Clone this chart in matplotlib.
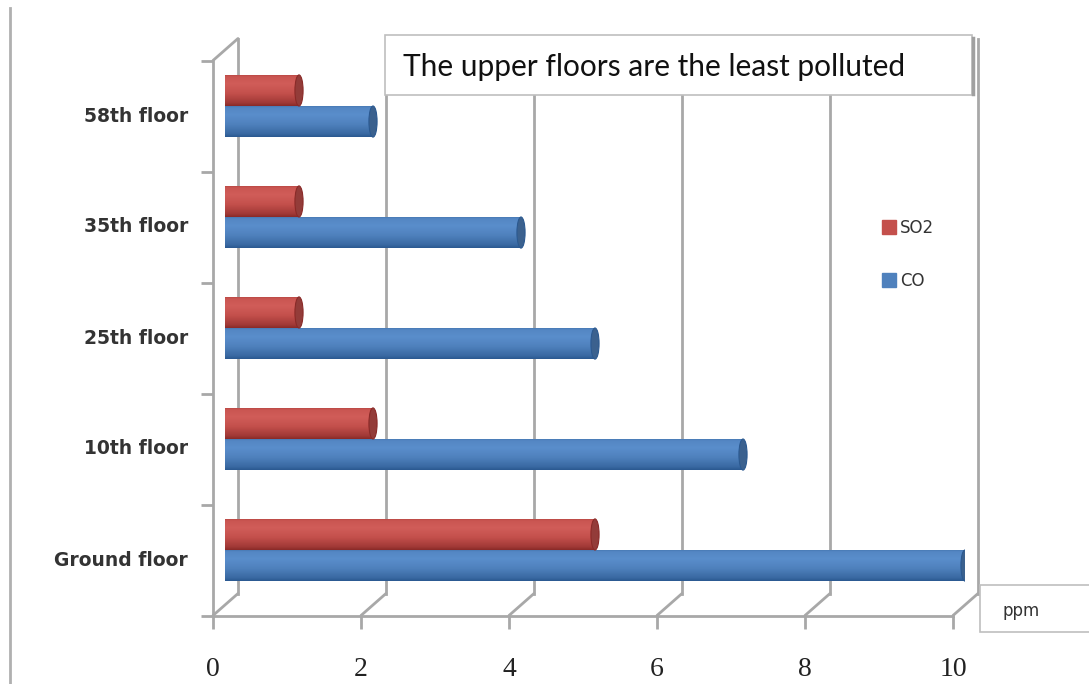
import numpy as np
import matplotlib
matplotlib.use('Agg')
import matplotlib.pyplot as plt
from matplotlib.patches import Rectangle, Ellipse, ConnectionPatch
from matplotlib.transforms import ScaledTranslation
from matplotlib.colors import to_rgb
from matplotlib.lines import Line2D
from matplotlib.markers import TICKDOWN, TICKLEFT

floors = ['Ground floor', '10th floor', '25th floor', '35th floor', '58th floor']
so2 = [5, 2, 1, 1, 1]
co = [10, 7, 5, 4, 2]
ppm_ticks = [0, 2, 4, 6, 8, 10]

W, H = 1089, 684
RED = ('#C4504C', '#E06D69', '#8A2A28')
BLUE = ('#4F81BD', '#679DDD', '#2B5990')
GRID = '#A8A8A8'


def shade(ax, patch, colors):
    """Paint a bar as a horizontal cylinder: vertical gradient plus an end cap."""
    base, light, dark = [np.array(to_rgb(c)) for c in colors]
    x, y0 = patch.get_xy()
    w, h = patch.get_width(), patch.get_height()
    t = np.linspace(0, 1, 80)
    s = np.interp(t, [0, 0.1, 0.4, 0.7, 0.92, 1.0], [-1, -0.6, 0, 0.45, 0.2, -0.4])
    rgb = np.where(s[:, None] >= 0,
                   base + s[:, None] * (light - base),
                   base + (-s[:, None]) * (dark - base))
    img = ax.imshow(np.repeat(rgb[:, None, :], 2, axis=1), origin='lower',
                    extent=(x, x + w, y0, y0 + h), aspect='auto',
                    interpolation='bilinear', zorder=3)
    img.set_clip_path(patch)
    cap = Ellipse((x + w, y0 + h / 2), width=0.11, height=h,
                  facecolor=base * 0.75, edgecolor=dark, lw=0.8, zorder=4)
    ax.add_patch(cap)


fig = plt.figure(figsize=(W / 100, H / 100), dpi=100)
ax = fig.add_axes([225 / W, (H - 605.5) / H, 740 / W, 555 / H])
ax.axis('off')


def shifted(dx, dy):
    return ax.transData + ScaledTranslation(dx / 100, dy / 100, fig.dpi_scale_trans)


back = shifted(13, 12)
front = shifted(-12, -10)

# back wall gridlines, floor diagonals and the front value axis
for t in ppm_ticks:
    ax.plot([t, t], [-0.5, 4.5], color=GRID, lw=2, transform=back,
            clip_on=False, zorder=1)
    ax.add_artist(ConnectionPatch((t, -0.5), (t, -0.5), coordsA=back,
                                  coordsB=front, color=GRID, lw=2,
                                  clip_on=False, zorder=1))
    ax.plot([t], [-0.5], marker=TICKDOWN, ms=9, mew=2, color=GRID,
            transform=front, clip_on=False)
    ax.annotate(str(t), (t, -0.5), xycoords=front, xytext=(0, -39),
                textcoords='offset points', ha='center', va='center',
                fontsize=20, family='Liberation Serif', color='#222222')

ax.plot([0, 10], [-0.5, -0.5], color=GRID, lw=2, transform=front, clip_on=False)
ax.plot([0, 0], [-0.5, 4.5], color=GRID, lw=2, transform=front, clip_on=False)
ax.plot(np.zeros(6), np.arange(-0.5, 5, 1), ls='none', marker=TICKLEFT, ms=9,
        mew=2, color=GRID, transform=front, clip_on=False)
ax.add_artist(ConnectionPatch((0, 4.5), (0, 4.5), coordsA=back, coordsB=front,
                              color=GRID, lw=2, clip_on=False, zorder=1))

# category labels on the front plane
for i, name in enumerate(floors):
    ax.annotate(name, (0, i), xycoords=front, xytext=(-18, 0),
                textcoords='offset points', ha='right', va='center',
                fontsize=13.5, fontweight='bold', color='#333333')

# cylinders
y = np.arange(len(floors))
bh = 0.28
red_bars = ax.barh(y + bh / 2, so2, height=bh, color=RED[0], zorder=2)
blue_bars = ax.barh(y - bh / 2, co, height=bh, color=BLUE[0], zorder=2)
for p in red_bars:
    shade(ax, p, RED)
for p in blue_bars:
    shade(ax, p, BLUE)

ax.set_xlim(0, 10)
ax.set_ylim(-0.5, 4.5)

# title box
fig.add_artist(Rectangle((385 / W, 1 - 95 / H), 587 / W, 60 / H,
                         transform=fig.transFigure, facecolor='white',
                         edgecolor='#BFBFBF', lw=1.2, zorder=5))
fig.add_artist(Line2D([973 / W, 973 / W], [1 - 94 / H, 1 - 38 / H],
                      transform=fig.transFigure, color='#A0A0A0', lw=2.5, zorder=5))
fig.text(403 / W, 1 - 67 / H, 'The upper floors are the least polluted',
         fontsize=21.5, family='Lato', va='center', color='#111111', zorder=6)

# unit box
fig.add_artist(Rectangle((980 / W, 1 - 632 / H), 200 / W, 47 / H,
                         transform=fig.transFigure, facecolor='white',
                         edgecolor='#BFBFBF', lw=1.2, zorder=5))
fig.text(1003 / W, 1 - 611 / H, 'ppm', fontsize=12, va='center',
         color='#333333', zorder=6)

# slide edge
fig.add_artist(Line2D([10 / W, 10 / W], [0, 1 - 8 / H], transform=fig.transFigure,
                      color='#B0B0B0', lw=2))

handles = [Line2D([], [], marker='s', ls='none', color=RED[0], ms=10, label='SO2'),
           Line2D([], [], marker='s', ls='none', color=BLUE[0], ms=10, label='CO')]
leg = fig.legend(handles=handles, loc='upper left',
                 bbox_to_anchor=(868 / W, 1 - 204 / H), frameon=False,
                 fontsize=12, labelspacing=2.1, handlelength=0.7,
                 handletextpad=0.3)
for txt in leg.get_texts():
    txt.set_color('#333333')

fig.savefig('out.png', dpi=100, facecolor='white')
